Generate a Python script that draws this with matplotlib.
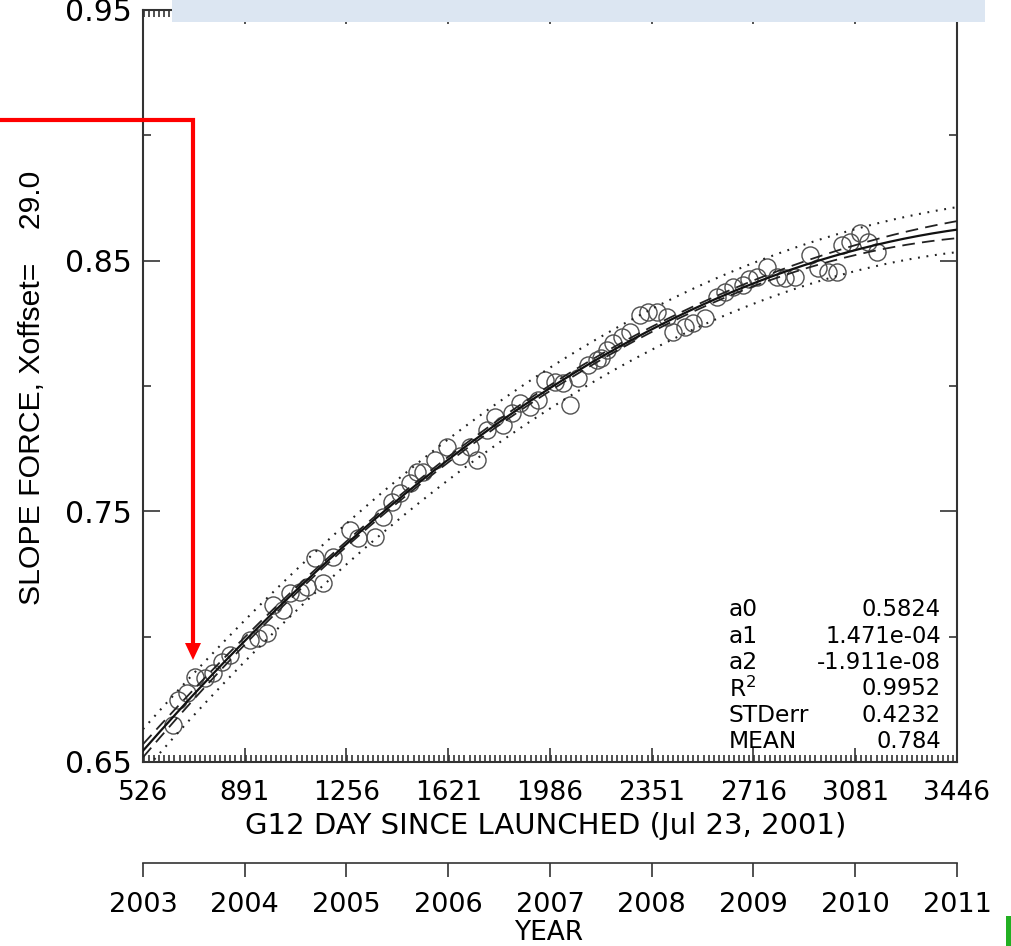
import numpy as np
import matplotlib
matplotlib.use("Agg")
import matplotlib.pyplot as plt
from matplotlib.lines import Line2D
from matplotlib.patches import Rectangle, Polygon
from matplotlib.ticker import MultipleLocator, FixedLocator

# ---------------- data ----------------
days = [634, 652, 684, 713, 748, 777, 809, 838, 910, 939, 971, 992, 1028, 1053,
        1089, 1115, 1143, 1172, 1208, 1269, 1297, 1358, 1387, 1419, 1448, 1484,
        1509, 1530, 1573, 1617, 1663, 1699, 1724, 1760, 1789, 1817, 1850, 1878,
        1914, 1943, 1968, 2004, 2033, 2058, 2086, 2122, 2155, 2170, 2190, 2212,
        2244, 2273, 2309, 2337, 2370, 2406, 2427, 2470, 2499, 2542, 2585, 2614,
        2642, 2678, 2700, 2729, 2764, 2800, 2829, 2865, 2919, 2947, 2983, 3015,
        3033, 3062, 3098, 3127, 3159]
slope = [0.6648, 0.6747, 0.6775, 0.6839, 0.6835, 0.6855, 0.6899, 0.6927, 0.6987,
         0.6995, 0.7015, 0.7126, 0.7106, 0.7174, 0.7178, 0.7200, 0.7314, 0.7214,
         0.7318, 0.7426, 0.7394, 0.7398, 0.7477, 0.7537, 0.7573, 0.7613, 0.7657,
         0.7657, 0.7705, 0.7757, 0.7720, 0.7757, 0.7705, 0.7825, 0.7876, 0.7844,
         0.7892, 0.7932, 0.7916, 0.7944, 0.8024, 0.8016, 0.8012, 0.7924, 0.8032,
         0.8084, 0.8104, 0.8110, 0.8145, 0.8172, 0.8196, 0.8216, 0.8283, 0.8295,
         0.8295, 0.8275, 0.8216, 0.8235, 0.8251, 0.8271, 0.8355, 0.8375, 0.8395,
         0.8403, 0.8425, 0.8435, 0.8475, 0.8435, 0.8431, 0.8435, 0.8523, 0.8471,
         0.8455, 0.8455, 0.8563, 0.8575, 0.8610, 0.8575, 0.8535]

coef_a0 = 0.5824
coef_a1 = 1.471e-04
coef_a2 = -1.911e-08

day_ticks = [526, 891, 1256, 1621, 1986, 2351, 2716, 3081, 3446]
year_labels = ["2003", "2004", "2005", "2006", "2007", "2008", "2009", "2010", "2011"]
y_ticks = [0.65, 0.75, 0.85, 0.95]

stat_names = ["a0", "a1", "a2", "R$^{2}$", "STDerr", "MEAN"]
stat_values = ["0.5824", "1.471e-04", "-1.911e-08", "0.9952", "0.4232", "0.784"]

# ---------------- fit curve and bands ----------------
days_a = np.array(days, float)
slope_a = np.array(slope, float)
xx = np.linspace(day_ticks[0], day_ticks[-1], 400)
fit = np.polyval([coef_a2, coef_a1, coef_a0], xx)
resid = slope_a - np.polyval([coef_a2, coef_a1, coef_a0], days_a)
n = len(days_a)
s = np.sqrt(np.sum(resid ** 2) / (n - 3))
u = (days_a - 1986.0) / 1000.0
X = np.column_stack([np.ones(n), u, u ** 2])
XtXi = np.linalg.inv(X.T @ X)
uu = (xx - 1986.0) / 1000.0
V = np.column_stack([np.ones_like(uu), uu, uu ** 2])
h = np.einsum("ij,jk,ik->i", V, XtXi, V)
tval = 1.98
conf = 0.85 * tval * s * np.sqrt(h)
pred = tval * s * np.sqrt(1 + h)

# ---------------- figure ----------------
W, H = 1012, 946
fig = plt.figure(figsize=(W / 100, H / 100), dpi=100)
fig.patch.set_facecolor("white")

def fx(px):
    return px / W

def fy(py):
    return 1 - py / H

L, R, T, B = 143, 957, 10, 762
ax = fig.add_axes([fx(L), fy(B), fx(R) - fx(L), fy(T) - fy(B)])

axis_col = "#333333"
ax.plot(days_a, slope_a, linestyle="none", marker="o", markersize=12.3,
        markerfacecolor="none", markeredgecolor="#505050", markeredgewidth=1.0, zorder=3)
ax.plot(xx, fit, color="#111111", lw=1.6, zorder=4)
ax.plot(xx, fit + conf, color="#222222", lw=1.3, dashes=(7, 4), zorder=4)
ax.plot(xx, fit - conf, color="#222222", lw=1.3, dashes=(7, 4), zorder=4)
ax.plot(xx, fit + pred, color="#222222", lw=1.5, dashes=(0.9, 3.2), zorder=4)
ax.plot(xx, fit - pred, color="#222222", lw=1.5, dashes=(0.9, 3.2), zorder=4)

ax.set_xlim(day_ticks[0], day_ticks[-1])
ax.set_ylim(0.65, 0.95)
ax.xaxis.set_major_locator(FixedLocator(day_ticks))
ax.xaxis.set_minor_locator(MultipleLocator(365 / 20))
ax.yaxis.set_major_locator(FixedLocator(y_ticks))
ax.yaxis.set_minor_locator(FixedLocator([0.70, 0.80, 0.90]))
ax.set_xticklabels([str(d) for d in day_ticks])
ax.set_yticklabels(["%.2f" % v for v in y_ticks])

for sp in ax.spines.values():
    sp.set_color(axis_col)
    sp.set_linewidth(1.5)

ax.tick_params(axis="both", which="both", direction="in", top=True, right=True,
               color=axis_col, width=1.2)
ax.tick_params(axis="x", which="major", length=10, labelsize=19, pad=13)
ax.tick_params(axis="x", which="minor", length=5)
ax.tick_params(axis="y", which="major", length=12, labelsize=21.5, pad=8)
ax.tick_params(axis="y", which="minor", length=6)
for lab in ax.get_xticklabels() + ax.get_yticklabels():
    lab.set_family("DejaVu Sans")

fig.text(fx(546), fy(826), "G12 DAY SINCE LAUNCHED (Jul 23, 2001)", ha="center",
         va="center", fontsize=21, family="DejaVu Sans")
fig.text(fx(32), fy(388), "SLOPE FORCE, Xoffset=    29.0", rotation=90, ha="center",
         va="center", fontsize=21.7, family="Liberation Sans")

# stats box
for i, (nm, vl) in enumerate(zip(stat_names, stat_values)):
    ypx = 610 + i * 26.3
    fig.text(fx(729), fy(ypx), nm, ha="left", va="center", fontsize=16.8,
             family="DejaVu Sans")
    fig.text(fx(941), fy(ypx), vl, ha="right", va="center", fontsize=16.3,
             family="DejaVu Sans")

# year axis
axy = fig.add_axes([fx(L), fy(863), fx(R) - fx(L), 0.0001])
axy.set_xlim(day_ticks[0], day_ticks[-1])
axy.set_yticks([])
for k in ["left", "right", "top"]:
    axy.spines[k].set_visible(False)
axy.spines["bottom"].set_color(axis_col)
axy.spines["bottom"].set_linewidth(1.2)
axy.xaxis.set_major_locator(FixedLocator(day_ticks))
axy.set_xticklabels(year_labels, family="DejaVu Sans")
axy.tick_params(axis="x", direction="out", length=10, width=1.2, color=axis_col,
                labelsize=19.5, pad=11)
axy.patch.set_visible(False)
fig.text(fx(549), fy(933), "YEAR", ha="center", va="center", fontsize=19,
         family="DejaVu Sans")

# overlays: light-blue bar, red arrow, green mark
fig.patches.append(Rectangle((fx(172), fy(22)), fx(985) - fx(172), fy(0) - fy(22),
                             transform=fig.transFigure, facecolor="#dce6f2",
                             edgecolor="none", zorder=10))
fig.lines.append(Line2D([fx(0), fx(193), fx(193)], [fy(120), fy(120), fy(644)],
                        transform=fig.transFigure, color="#ff0000", lw=3,
                        solid_joinstyle="miter", zorder=11))
fig.patches.append(Polygon([[fx(185), fy(643)], [fx(201), fy(643)], [fx(193), fy(660)]],
                           closed=True, transform=fig.transFigure, facecolor="#ff0000",
                           edgecolor="none", zorder=11))
fig.patches.append(Rectangle((fx(1006), fy(946)), fx(6), fy(916) - fy(946),
                             transform=fig.transFigure, facecolor="#22b022",
                             edgecolor="none", zorder=10))

fig.savefig("out.png", dpi=100)
